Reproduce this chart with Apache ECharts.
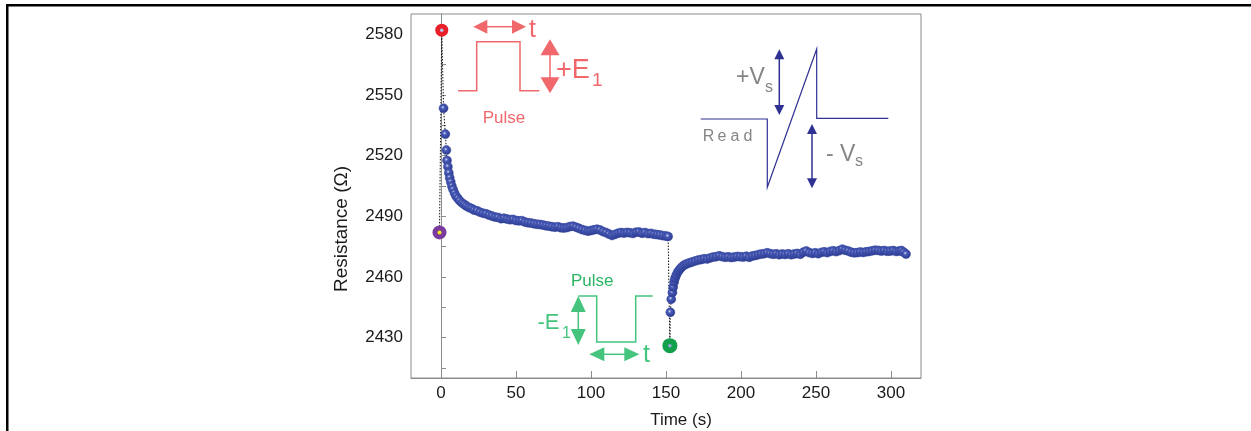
<!DOCTYPE html>
<html>
<head>
<meta charset="utf-8">
<title>Resistance vs time</title>
<script src="https://cdn.jsdelivr.net/npm/echarts@6/dist/echarts.min.js"></script>
<style>
  html, body { margin: 0; padding: 0; background: #fff; }
  #chart { width: 1251px; height: 431px; }
</style>
</head>
<body>
<div id="chart"></div>
<script>
'use strict';

// ---- data: [time (s), resistance (ohm)] ----
var startPoint = [-1, 2482];        // before the +E1 pulse (purple)
var pulseUpPoint = [0.5, 2582];     // right after the +E1 pulse (red)
var pulseDownPoint = [152.6, 2426]; // right after the -E1 pulse (green)

var relaxAfterUp = [
  [1.7, 2543.4], [2.9, 2530.6], [3.6, 2522.7], [4.0, 2517.6], [4.6, 2514.5],
  [5.2, 2511.5], [5.8, 2509.0], [6.5, 2507.0], [7.2, 2505.0], [8.0, 2503.3],
  [9.0, 2501.5], [10.0, 2500.0], [11.2, 2498.8], [12.5, 2497.6], [14.0, 2496.6],
  [15.5, 2495.8], [17.0, 2495.0], [18.7, 2494.3], [20.4, 2493.8], [22.0, 2493.1],
  [24.0, 2492.7], [26.0, 2492.0], [28.0, 2491.5], [30.0, 2491.2], [32.0, 2490.6],
  [34.0, 2490.1], [36.0, 2489.6], [38.0, 2489.4], [40.0, 2488.8], [42.0, 2489.0],
  [44.0, 2488.6], [46.0, 2488.3], [48.0, 2488.4], [50.0, 2487.9], [52.0, 2487.7],
  [54.0, 2487.8], [56.0, 2487.1], [58.0, 2486.8], [60.0, 2486.6], [62.0, 2486.3],
  [64.0, 2486.0], [66.0, 2485.9], [68.0, 2485.6], [70.0, 2485.3], [72.0, 2485.1],
  [74.0, 2484.8], [76.0, 2484.6], [78.0, 2484.8], [80.0, 2484.3], [82.0, 2484.2],
  [84.0, 2484.4], [86.0, 2484.9], [88.0, 2485.1], [90.0, 2484.6], [92.0, 2484.0],
  [94.0, 2483.4], [96.0, 2483.0], [98.0, 2482.6], [100.0, 2482.9], [102.0, 2483.3],
  [104.0, 2483.6], [106.0, 2483.2], [108.0, 2482.4], [110.0, 2481.9], [112.0, 2481.2],
  [114.0, 2480.5], [116.0, 2481.0], [118.0, 2481.6], [120.0, 2481.9], [122.0, 2481.7],
  [124.0, 2482.0], [126.0, 2481.8], [128.0, 2481.5], [130.0, 2482.1], [132.0, 2482.2],
  [134.0, 2481.6], [136.0, 2481.9], [138.0, 2481.4], [140.0, 2481.5], [142.0, 2481.1],
  [144.0, 2480.9], [146.0, 2480.7], [148.0, 2480.4], [150.0, 2480.2], [151.4, 2480.0]
];

var relaxAfterDown = [
  [152.9, 2442.5], [153.5, 2449.0], [154.3, 2452.3], [154.8, 2455.0], [155.4, 2457.5],
  [156.0, 2459.3], [156.8, 2460.8], [157.7, 2462.2], [158.7, 2463.3], [159.8, 2464.3],
  [161.0, 2465.2], [162.5, 2466.0], [164.0, 2466.5], [165.8, 2467.0], [167.5, 2467.4],
  [169.5, 2467.9], [171.5, 2468.3], [173.5, 2468.6], [175.5, 2469.0], [177.5, 2468.9],
  [179.5, 2469.4], [181.5, 2469.8], [183.5, 2470.0], [185.5, 2470.4], [187.5, 2470.0],
  [189.5, 2469.7], [191.5, 2469.9], [193.5, 2469.6], [195.5, 2469.8], [197.5, 2470.1],
  [199.5, 2470.0], [201.5, 2469.8], [203.5, 2470.2], [205.5, 2469.7], [207.5, 2470.3],
  [209.5, 2470.6], [211.5, 2471.0], [213.5, 2471.3], [215.5, 2471.5], [217.5, 2471.9],
  [219.5, 2471.5], [221.5, 2471.2], [223.5, 2471.4], [225.5, 2471.0], [227.5, 2471.3],
  [229.5, 2471.1], [231.5, 2471.4], [233.5, 2471.0], [235.5, 2471.3], [237.5, 2471.6],
  [239.5, 2471.2], [241.5, 2472.2], [243.5, 2472.8], [245.5, 2472.0], [247.5, 2471.6],
  [249.5, 2471.9], [251.5, 2471.5], [253.5, 2472.1], [255.5, 2472.4], [257.5, 2472.0],
  [259.5, 2472.6], [261.5, 2472.9], [263.5, 2472.5], [265.5, 2473.0], [267.5, 2473.7],
  [269.5, 2473.2], [271.5, 2472.8], [273.5, 2472.2], [275.5, 2471.9], [277.5, 2472.0],
  [279.5, 2472.3], [281.5, 2472.1], [283.5, 2472.4], [285.5, 2472.6], [287.5, 2472.9],
  [289.5, 2473.2], [291.5, 2473.1], [293.5, 2472.8], [295.5, 2473.0], [297.5, 2472.7],
  [299.5, 2472.8], [301.5, 2473.0], [303.5, 2472.6], [305.5, 2472.8], [307.0, 2473.0],
  [308.5, 2472.2], [310.0, 2471.3]
];

var xTicks = [0, 50, 100, 150, 200, 250, 300];
var yLabels = [2430, 2460, 2490, 2520, 2550, 2580];
var yTicks = [2415, 2430, 2445, 2460, 2475, 2490, 2505, 2520, 2535, 2550, 2565, 2580];

// ---- look ----
var FONT = "'Liberation Sans', Arial, sans-serif";
var RED = '#f0686c';
var GREEN = '#45c47e';
var NAVY = '#2e3192';
var GREY = '#858585';
var AXIS = '#8c8c8c';

var ball = {
  type: 'radial', x: 0.42, y: 0.4, r: 0.6,
  colorStops: [
    { offset: 0, color: '#d6dcf5' },
    { offset: 0.3, color: '#4a5cb8' },
    { offset: 1, color: '#28378c' }
  ]
};

// whole trace in measurement order, joined by the dotted line
var trace = [startPoint, pulseUpPoint].concat(relaxAfterUp, [pulseDownPoint], relaxAfterDown);

// small helpers for the schematic insets (pixel space)
function hArrow(x1, x2, y, hl, hw, color, lw) {
  return [
    { type: 'line', shape: { x1: x1 + hl - 2, y1: y, x2: x2 - hl + 2, y2: y }, style: { stroke: color, lineWidth: lw } },
    { type: 'polygon', shape: { points: [[x1, y], [x1 + hl, y - hw / 2], [x1 + hl, y + hw / 2]] }, style: { fill: color } },
    { type: 'polygon', shape: { points: [[x2, y], [x2 - hl, y - hw / 2], [x2 - hl, y + hw / 2]] }, style: { fill: color } }
  ];
}
function vArrow(x, y1, y2, hl, hw, color, lw) {
  return [
    { type: 'line', shape: { x1: x, y1: y1 + hl - 2, x2: x, y2: y2 - hl + 2 }, style: { stroke: color, lineWidth: lw } },
    { type: 'polygon', shape: { points: [[x, y1], [x - hw / 2, y1 + hl], [x + hw / 2, y1 + hl]] }, style: { fill: color } },
    { type: 'polygon', shape: { points: [[x, y2], [x - hw / 2, y2 - hl], [x + hw / 2, y2 - hl]] }, style: { fill: color } }
  ];
}
function label(text, x, y, size, color, align) {
  return { type: 'text', style: { text: text, x: x, y: y, fill: color, font: size + 'px ' + FONT, align: align || 'left', verticalAlign: 'middle' } };
}
function wave(points, color, lw) {
  return { type: 'polyline', shape: { points: points }, style: { stroke: color, lineWidth: lw, fill: null } };
}

var graphics = [
  // frame of the cropped figure
  { type: 'rect', shape: { x: 6, y: 4, width: 1245, height: 2.5 }, style: { fill: '#000' } },
  { type: 'rect', shape: { x: 6, y: 4, width: 2.5, height: 427 }, style: { fill: '#000' } },

  // axis titles
  { type: 'text', rotation: Math.PI / 2, x: 342, y: 229,
    style: { text: 'Resistance (\u03a9)', fill: '#1a1a1a', font: '19px ' + FONT, align: 'center', verticalAlign: 'middle' } },
  label('Time (s)', 681, 420, 17, '#1a1a1a', 'center'),

  // +E1 pulse inset
  wave([[458, 90.7], [476.7, 90.7], [476.7, 41.7], [520, 41.7], [520, 90.7], [539.3, 90.7]], RED, 1.5),
  label('Pulse', 482.7, 118, 17, RED),
  label('t', 529, 30, 25, RED),
  label('+E', 556, 71, 27, RED),
  label('1', 592, 81, 19, RED),

  // read / set voltage inset
  wave([[700.7, 119], [767.3, 119], [767.3, 187.3], [816.7, 49], [816.7, 118.3], [888.3, 118.3]], NAVY, 1.2),
  label('R', 702.7, 137, 16, GREY),
  label('e', 717.5, 137, 16, GREY),
  label('a', 730.5, 137, 16, GREY),
  label('d', 743.5, 137, 16, GREY),
  label('+V', 736, 77.5, 23, GREY),
  label('s', 765, 88, 16, GREY),
  label('- V', 826, 154.3, 23, GREY),
  label('s', 855, 161.5, 16, GREY),

  // -E1 pulse inset
  wave([[578.3, 296], [596.7, 296], [596.7, 342], [635.7, 342], [635.7, 296], [652.7, 296]], GREEN, 1.5),
  label('Pulse', 571, 281, 17, '#2bb463'),
  label('-E', 537.5, 323.3, 22, GREEN),
  label('1', 562, 334, 16, GREEN),
  label('t', 643, 355, 25, GREEN)
];
graphics = graphics
  .concat(hArrow(473.3, 526, 26.7, 14, 14, RED, 1.5))
  .concat(vArrow(550, 39.3, 93.3, 16, 19, RED, 1.5))
  .concat(vArrow(779.3, 49.3, 115, 10, 10, NAVY, 1.5))
  .concat(vArrow(812, 124, 188.3, 10, 10, NAVY, 1.5))
  .concat(vArrow(578.3, 296, 345, 16, 15, GREEN, 1.5))
  .concat(hArrow(589.3, 639.3, 354.3, 15, 14, GREEN, 1.5));

var chart = echarts.init(document.getElementById('chart'), null, { renderer: 'canvas' });

var blueDots = { color: ball, borderColor: '#34469f', borderWidth: 0.5, opacity: 1 };

var option = {
  backgroundColor: '#fff',
  animation: false,
  grid: { left: 411, right: 330, top: 14, bottom: 53, show: true, borderColor: AXIS, borderWidth: 1 },
  xAxis: {
    type: 'value', min: -20, max: 320,
    axisLine: { show: true, lineStyle: { color: AXIS, width: 1 } },
    axisTick: { show: true, inside: true, length: 7, customValues: xTicks, lineStyle: { color: AXIS } },
    axisLabel: { customValues: xTicks, color: '#1a1a1a', fontSize: 17, fontFamily: FONT, margin: 7,
      formatter: function (v) { return String(v); } },
    splitLine: { show: false }
  },
  yAxis: {
    type: 'value', min: 2410, max: 2590,
    axisLine: { show: true, lineStyle: { color: AXIS, width: 1 } },
    axisTick: { show: true, inside: true, length: 5, customValues: yTicks, lineStyle: { color: AXIS } },
    axisLabel: { customValues: yLabels, color: '#1a1a1a', fontSize: 17, fontFamily: FONT, margin: 8,
      formatter: function (v) { return String(v); } },
    splitLine: { show: false }
  },
  series: [
    {
      name: 'trace', type: 'line', data: trace, showSymbol: false, silent: true, z: 1,
      lineStyle: { color: '#111', width: 1, type: [1.5, 1.5] }
    },
    { name: 'after +E1', type: 'scatter', data: relaxAfterUp, symbolSize: 9, z: 3, itemStyle: blueDots },
    { name: 'after -E1', type: 'scatter', data: relaxAfterDown, symbolSize: 9, z: 3, itemStyle: blueDots },
    { name: 'start', type: 'scatter', data: [startPoint], symbolSize: 14, z: 4, itemStyle: { color: '#7b3b9c', opacity: 1 } },
    { name: 'start core', type: 'scatter', data: [startPoint], symbolSize: 4, z: 5, itemStyle: { color: '#f5e61a', opacity: 1 } },
    { name: 'set', type: 'scatter', data: [pulseUpPoint], symbolSize: 13, z: 4, itemStyle: { color: '#e8202a', opacity: 1 } },
    { name: 'set core', type: 'scatter', data: [pulseUpPoint], symbolSize: 3.5, z: 5, itemStyle: { color: '#b9c3ee', opacity: 1 } },
    { name: 'reset', type: 'scatter', data: [pulseDownPoint], symbolSize: 15, z: 4, itemStyle: { color: '#13a04c', opacity: 1 } },
    { name: 'reset core', type: 'scatter', data: [pulseDownPoint], symbolSize: 3.5, z: 5, itemStyle: { color: '#9aa6e0', opacity: 1 } }
  ],
  graphic: { elements: graphics }
};

chart.setOption(option);
window.addEventListener('resize', function () {
  chart.resize();
});
</script>
</body>
</html>
